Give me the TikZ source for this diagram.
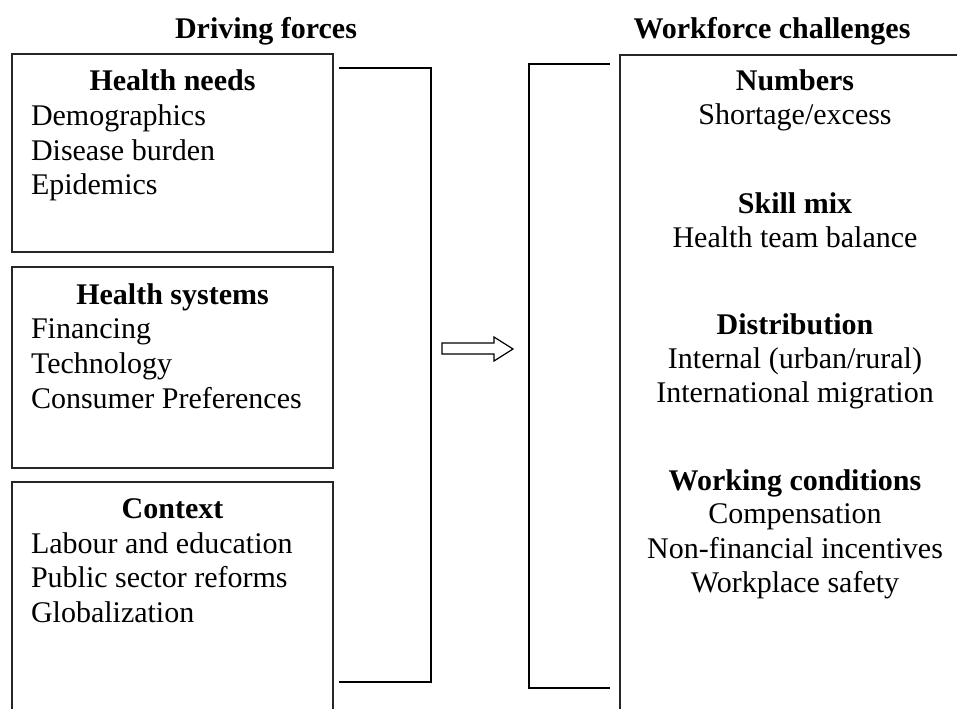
\documentclass[tikz,border=0pt]{standalone}
\usepackage{fontspec}
\setmainfont{Liberation Serif}
\begin{document}
\begin{tikzpicture}[x=1pt,y=-1pt,
  every node/.style={inner sep=0pt, outer sep=0pt, font=\fontsize{30}{34}\selectfont},
  title/.style={anchor=base, font=\fontsize{30}{34}\selectfont\bfseries},
  head/.style={anchor=base, font=\fontsize{30}{34}\selectfont\bfseries},
  item/.style={anchor=base west},
  citem/.style={anchor=base},
  frame/.style={draw=black!85, line width=1.6pt},
  bracket/.style={draw=black, line width=2pt, line cap=butt, line join=miter},
  hollow/.style={draw=black, line width=1.2pt, fill=white, line join=miter}]
\useasboundingbox (0,0) rectangle (957,709);

% column titles
\node[title] (tl) at (266,38) {Driving forces};
\node[title] (tr) at (772,38) {Workforce challenges};

% driving-force boxes
\draw[frame] (12,54) rectangle (333,252);
\draw[frame] (12,267) rectangle (333,468);
\draw[frame] (12,709) -- (12,482) -- (333,482) -- (333,709);

\node[head] (h1) at (172.5,90) {Health needs};
\node[item] (h1a) at (31,125) {Demographics};
\node[item] (h1b) at (31,160) {Disease burden};
\node[item] (h1c) at (31,194) {Epidemics};

\node[head] (h2) at (172.5,304) {Health systems};
\node[item] (h2a) at (31,338) {Financing};
\node[item] (h2b) at (31,373) {Technology};
\node[item] (h2c) at (31,408) {Consumer Preferences};

\node[head] (h3) at (172.5,518) {Context};
\node[item] (h3a) at (31,553) {Labour and education};
\node[item] (h3b) at (31,587) {Public sector reforms};
\node[item] (h3c) at (31,622) {Globalization};

% brackets gathering and spreading
\draw[bracket] (339,68) -- (431,68) -- (431,682) -- (339,682);
\draw[bracket, line width=2.6pt] (610,64) -- (529,64) -- (529,688) -- (610,688);

% hollow arrow between the brackets
\draw[hollow] (442,343) -- (494,343) -- (494,337) -- (513,349) -- (494,361)
  -- (494,354) -- (442,354) -- cycle;

% workforce-challenge box
\draw[frame] (620,709) -- (620,55) -- (957,55);

\node[head] (c1) at (795,90) {Numbers};
\node[citem] (c1a) at (795,124) {Shortage/excess};

\node[head] (c2) at (795,213) {Skill mix};
\node[citem] (c2a) at (795,247) {Health team balance};

\node[head] (c3) at (795,334) {Distribution};
\node[citem] (c3a) at (795,368) {Internal (urban/rural)};
\node[citem] (c3b) at (795,402) {International migration};

\node[head] (c4) at (795,490) {Working conditions};
\node[citem] (c4a) at (795,523) {Compensation};
\node[citem] (c4b) at (795,558) {Non-financial incentives};
\node[citem] (c4c) at (795,592) {Workplace safety};
\end{tikzpicture}
\end{document}
